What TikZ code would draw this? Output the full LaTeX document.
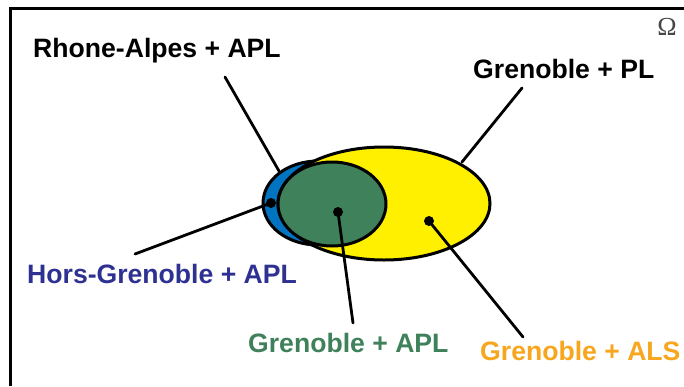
\documentclass[tikz,border=0pt]{standalone}
\usepackage{fontspec}
\setmainfont{Liberation Sans}
\newfontfamily\omegafont{Liberation Serif}
\usetikzlibrary{shapes.geometric}
\definecolor{setblue}{RGB}{0,116,192}
\definecolor{setyellow}{RGB}{255,240,0}
\definecolor{setgreen}{RGB}{62,129,90}
\definecolor{txtblue}{RGB}{46,49,146}
\definecolor{txtgreen}{RGB}{62,129,90}
\definecolor{txtorange}{RGB}{248,166,30}
\begin{document}
\begin{tikzpicture}[x=1pt,y=-1pt,
  setshape/.style={ellipse,draw=black,line width=3pt,inner sep=0pt,outer sep=0pt},
  lbl/.style={anchor=base west,inner sep=0pt,font=\fontsize{26.6}{30}\selectfont\bfseries},
  conn/.style={line width=2.8pt,line cap=round},
  dotmark/.style={circle,fill=black,inner sep=0pt,minimum size=10pt}]
\useasboundingbox (0,0) rectangle (684,386);
\fill[white] (0,0) rectangle (684,386);
% frame
\draw[line width=3pt] (10,386) -- (10,8) -- (684,8);
\node[text=black!72,font=\omegafont\fontsize{26}{28}\selectfont,anchor=base,inner sep=0pt] (omega) at (667,35) {Ω};
% sets
\node[setshape,fill=setblue,minimum width=110pt,minimum height=84pt] (blue) at (318,203) {};
\node[setshape,fill=setyellow,minimum width=212pt,minimum height=113pt] (yellow) at (384,203.5) {};
\node[setshape,fill=setgreen,minimum width=108pt,minimum height=84pt] (green) at (332,204) {};
% dots
\node[dotmark] (dblue) at (271,203) {};
\node[dotmark] (dgreen) at (338,212) {};
\node[dotmark] (dyellow) at (429,221) {};
% labels
\node[lbl] (rhone) at (33,57) {Rhone-Alpes + APL};
\node[lbl] (gpl) at (473,78) {Grenoble + PL};
\node[lbl,text=txtblue] (hors) at (27,283) {Hors-Grenoble + APL};
\node[lbl,text=txtgreen] (gapl) at (248,352) {Grenoble + APL};
\node[lbl,text=txtorange] (gals) at (480,360) {Grenoble + ALS};
% connector ends
\coordinate (rhoneA) at (225,77);
\coordinate (rhoneB) at (279,171);
\coordinate (gplA) at (522,88);
\coordinate (gplB) at (462,162);
\coordinate (horsA) at (135,254);
\coordinate (gaplA) at (353,323);
\coordinate (galsA) at (523,337);
\draw[conn] (rhoneA) -- (rhoneB);
\draw[conn] (gplA) -- (gplB);
\draw[conn] (horsA) -- (dblue.center);
\draw[conn] (gaplA) -- (dgreen.center);
\draw[conn] (galsA) -- (dyellow.center);
\end{tikzpicture}
\end{document}
